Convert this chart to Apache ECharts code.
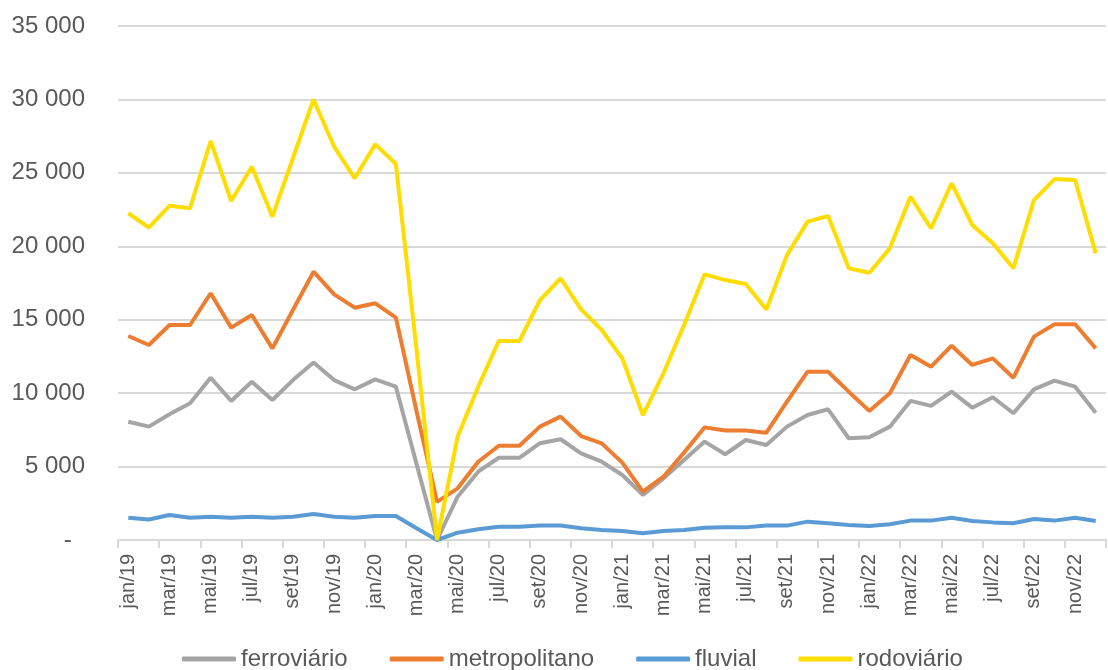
<!DOCTYPE html>
<html>
<head>
<meta charset="utf-8">
<script src="https://cdn.jsdelivr.net/npm/echarts@6/dist/echarts.min.js"></script>
<style>
  html, body { margin: 0; padding: 0; background: #fff; }
  #chart { width: 1108px; height: 670px; }
</style>
</head>
<body>
<div id="chart"></div>
<script>
// meses jan/19 .. dez/22
const months = [
  'jan/19','fev/19','mar/19','abr/19','mai/19','jun/19','jul/19','ago/19','set/19','out/19','nov/19','dez/19',
  'jan/20','fev/20','mar/20','abr/20','mai/20','jun/20','jul/20','ago/20','set/20','out/20','nov/20','dez/20',
  'jan/21','fev/21','mar/21','abr/21','mai/21','jun/21','jul/21','ago/21','set/21','out/21','nov/21','dez/21',
  'jan/22','fev/22','mar/22','abr/22','mai/22','jun/22','jul/22','ago/22','set/22','out/22','nov/22','dez/22'
];

const ferroviario = [
  8050, 7720, 8560, 9310, 11050, 9470, 10780, 9530, 10890, 12080, 10890, 10260,
  10940, 10440, 5200, 0, 2950, 4650, 5600, 5600, 6590, 6860, 5900, 5330,
  4430, 3070, 4200, 5450, 6700, 5840, 6810, 6470, 7720, 8510, 8900, 6930,
  6990, 7720, 9470, 9130, 10100, 9010, 9720, 8630, 10260, 10850, 10440, 8670
];

const metropolitano = [
  13890, 13280, 14640, 14640, 16800, 14460, 15320, 13050, 15660, 18270, 16730, 15820,
  16120, 15140, 8800, 2600, 3520, 5330, 6420, 6420, 7720, 8400, 7080, 6580,
  5270, 3290, 4310, 5950, 7670, 7450, 7450, 7310, 9420, 11460, 11460, 10100,
  8790, 9990, 12600, 11800, 13230, 11920, 12370, 11050, 13850, 14690, 14690, 13050
];

const fluvial = [
  1520, 1400, 1700, 1520, 1590, 1520, 1590, 1520, 1590, 1770, 1590, 1520,
  1630, 1630, 800, 0, 500, 730, 900, 900, 980, 980, 800, 680,
  620, 460, 620, 680, 840, 860, 860, 980, 980, 1250, 1140, 1020,
  960, 1070, 1320, 1320, 1520, 1290, 1200, 1140, 1430, 1320, 1520, 1290
];

const rodoviario = [
  22250, 21270, 22760, 22590, 27170, 23080, 25420, 22020, 26010, 30000, 26780, 24630,
  26940, 25600, 13000, 0, 7040, 10440, 13550, 13550, 16340, 17820, 15710, 14300,
  12370, 8510, 11350, 14640, 18090, 17700, 17430, 15700, 19400, 21680, 22060, 18500,
  18200, 19860, 23380, 21220, 24290, 21450, 20200, 18500, 23150, 24580, 24510, 19520
];

const seriesNames = ['ferroviário', 'metropolitano', 'fluvial', 'rodoviário'];
const seriesColors = ['#a5a5a5', '#ed7d31', '#5b9bd5', '#ffdd00'];
const seriesData = [ferroviario, metropolitano, fluvial, rodoviario];

const chart = echarts.init(document.getElementById('chart'));

function fmt(v) {
  if (v === 0) return '-  ';
  return String(v).replace(/\B(?=(\d{3})+(?!\d))/g, ' ');
}

const option = {
  animation: false,
  backgroundColor: '#fff',
  textStyle: { fontFamily: 'Liberation Sans, Arial, sans-serif' },
  grid: {
    left: 118,
    right: 2,
    top: 26,
    bottom: 130
  },
  legend: {
    left: 177,
    top: 642,
    itemGap: 42,
    itemWidth: 54,
    itemHeight: 5,
    icon: 'roundRect',
    data: seriesNames,
    textStyle: {
      fontSize: 24,
      color: '#595959'
    }
  },
  xAxis: {
    type: 'category',
    data: months,
    boundaryGap: true,
    axisLine: { lineStyle: { color: '#d9d9d9', width: 2 } },
    axisTick: {
      show: true,
      interval: 1,
      length: 8,
      lineStyle: { color: '#d9d9d9', width: 2 }
    },
    axisLabel: {
      interval: 1,
      rotate: 90,
      margin: 14,
      fontSize: 20,
      color: '#595959'
    },
    splitLine: { show: false }
  },
  yAxis: {
    type: 'value',
    min: 0,
    max: 35000,
    interval: 5000,
    axisLine: { show: false },
    axisTick: { show: false },
    axisLabel: {
      margin: 33,
      fontSize: 24,
      color: '#595959',
      formatter: fmt
    },
    splitLine: { lineStyle: { color: '#d9d9d9', width: 2 } }
  },
  series: seriesNames.map(function (name, i) {
    return {
      name: name,
      type: 'line',
      data: seriesData[i],
      showSymbol: false,
      symbol: 'none',
      smooth: false,
      color: seriesColors[i],
      lineStyle: { color: seriesColors[i], width: 4 }
    };
  })
};

chart.setOption(option);
</script>
</body>
</html>
